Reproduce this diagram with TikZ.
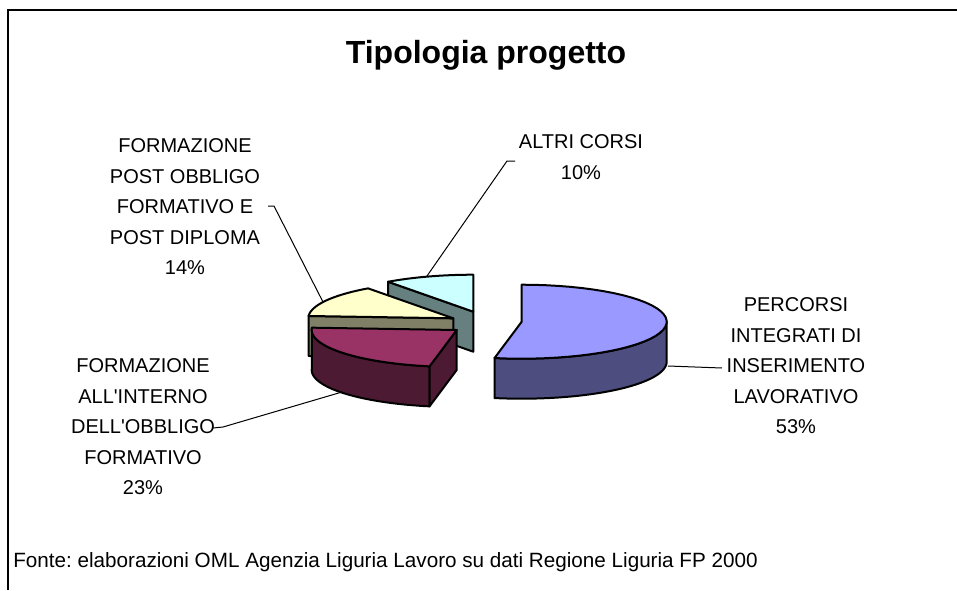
\documentclass[tikz,border=0pt]{standalone}
\usepackage{fontspec}
\newfontfamily\lsans{Liberation Sans}
\frenchspacing
\definecolor{bluetop}{HTML}{9999FF}
\definecolor{blueside}{HTML}{4D4D80}
\definecolor{martop}{HTML}{993366}
\definecolor{marside}{HTML}{4D1A33}
\definecolor{yeltop}{HTML}{FFFFCC}
\definecolor{yelside}{HTML}{808066}
\definecolor{cyantop}{HTML}{CCFFFF}
\definecolor{cyanside}{HTML}{668080}
\newcommand\PRX{145}
\newcommand\PRY{37}
\newcommand\PDP{40}
\newcommand\PieTop[5]{\filldraw[edge, fill=#5] (#1,#2) -- plot[domain=#3:#4, samples=40] ({#1+\PRX*cos(\x)},{#2-\PRY*sin(\x)}) -- cycle;}
\newcommand\PieSide[5]{\filldraw[edge, fill=#5] plot[domain=#3:#4, samples=40] ({#1+\PRX*cos(\x)},{#2-\PRY*sin(\x)}) -- plot[domain=#4:#3, samples=40] ({#1+\PRX*cos(\x)},{#2+\PDP-\PRY*sin(\x)}) -- cycle;}
\newcommand\PieCut[4]{\filldraw[edge, fill=#4] ({#1+\PRX*cos(#3)},{#2-\PRY*sin(#3)}) -- (#1,#2) -- (#1,{#2+\PDP}) -- ({#1+\PRX*cos(#3)},{#2+\PDP-\PRY*sin(#3)}) -- cycle;}
\begin{document}
\begin{tikzpicture}[x=0.75pt,y=-0.75pt,
  edge/.style={draw=black, line width=1.5pt, line join=round},
  leader/.style={draw=black, line width=0.75pt},
  lab/.style={align=center, inner sep=0pt, font=\lsans\fontsize{15}{22.9}\selectfont},
  frame/.style={draw=black, line width=1.5pt}]
\useasboundingbox (0,0) rectangle (957,590);
\draw[frame] (957,10) -- (8,10) -- (8,590);
% title
\node[font=\lsans\bfseries\fontsize{24}{28}\selectfont] (title) at (486,55) {Tipologia progetto};
% cyan slice (10%)
\PieCut{473.3}{311.7}{126}{cyanside}
\PieTop{473.3}{311.7}{90}{126}{cyantop}
% yellow slice (14%)
\PieCut{453.3}{318.3}{176.4}{yelside}
\PieTop{453.3}{318.3}{126}{176.4}{yeltop}
% maroon slice (23%)
\PieSide{456.7}{330}{176.4}{259.2}{marside}
\PieCut{456.7}{330}{259.2}{marside}
\PieTop{456.7}{330}{176.4}{259.2}{martop}
% blue slice (53%)
\PieSide{521.7}{321.7}{259.2}{360}{blueside}
\PieTop{521.7}{321.7}{-100.8}{90}{bluetop}
% labels
\node[lab] (l10) at (581,157) {ALTRI CORSI\\10\%};
\node[lab] (l14) at (185,207) {FORMAZIONE\\POST OBBLIGO\\FORMATIVO E\\POST DIPLOMA\\14\%};
\node[lab] (l23) at (143,427) {FORMAZIONE\\ALL'INTERNO\\DELL'OBBLIGO\\FORMATIVO\\23\%};
\node[lab] (l53) at (796,366) {PERCORSI\\INTEGRATI DI\\INSERIMENTO\\LAVORATIVO\\53\%};
% leaders
\coordinate (a10) at (515,161); \coordinate (b10) at (507,161); \coordinate (c10) at (427,276);
\draw[leader] (a10) -- (b10) -- (c10);
\coordinate (a14) at (268,206); \coordinate (b14) at (274,206); \coordinate (c14) at (323,302);
\draw[leader] (a14) -- (b14) -- (c14);
\coordinate (a23) at (213,428); \coordinate (b23) at (223,427); \coordinate (c23) at (342,392);
\draw[leader] (a23) -- (b23) -- (c23);
\coordinate (a53) at (668,366); \coordinate (b53) at (722,368);
\draw[leader] (a53) -- (b53);
% source
\node[anchor=west, inner sep=0pt, font=\lsans\fontsize{15.5}{18}\selectfont] (src) at (13,562) {Fonte: elaborazioni OML Agenzia Liguria Lavoro su dati Regione Liguria FP 2000};
\end{tikzpicture}
\end{document}
